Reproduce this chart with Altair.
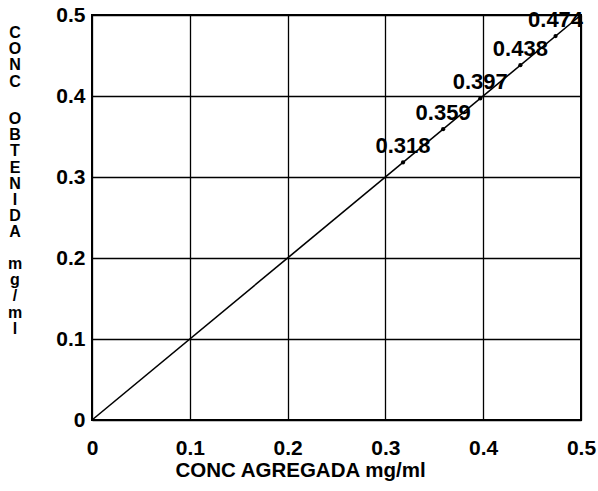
import altair as alt
import pandas as pd

# ---- data ----
line_x = [0.0, 0.5]
line_y = [0.0, 0.5]
point_values = [0.318, 0.359, 0.397, 0.438, 0.474]
point_labels = ["0.318", "0.359", "0.397", "0.438", "0.474"]
tick_values = [0, 0.1, 0.2, 0.3, 0.4, 0.5]
x_title = "CONC AGREGADA mg/ml"
y_title_words = ["CONC", "OBTENIDA", "mg/ml"]

FONT = "Liberation Sans"

line_df = pd.DataFrame({"x": line_x, "y": line_y})
pts_df = pd.DataFrame({"x": point_values, "y": point_values, "label": point_labels})
one_row = pd.DataFrame({"k": [0]})

scale = alt.Scale(domain=[0, 0.5], nice=False, zero=True)

x_axis = alt.Axis(
    values=tick_values, format="~g", grid=True, gridColor="black", gridWidth=1.3,
    gridOpacity=1, domain=False, ticks=False, labelFlush=False,
    labelFont=FONT, labelFontSize=21, labelFontWeight="bold", labelColor="black",
    labelPadding=17,
    title=x_title, titleFont=FONT, titleFontSize=20.5, titleFontWeight="bold",
    titleColor="black", titleX=208, titleY=56, titleBaseline="alphabetic",
    titleAlign="center",
)
y_axis = alt.Axis(
    values=tick_values, format="~g", grid=True, gridColor="black", gridWidth=1.3,
    gridOpacity=1, domain=False, ticks=False, labelFlush=False,
    labelFont=FONT, labelFontSize=21, labelFontWeight="bold", labelColor="black",
    labelPadding=7, title=None,
)

X = alt.X("x:Q", scale=scale, axis=x_axis)
Y = alt.Y("y:Q", scale=scale, axis=y_axis)

line = alt.Chart(line_df).mark_line(color="black", strokeWidth=1.6).encode(x=X, y=Y)

pts = alt.Chart(pts_df).mark_point(filled=True, color="black", size=18, opacity=1).encode(x=X, y=Y)

labels = alt.Chart(pts_df).mark_text(
    dy=-16, font=FONT, fontSize=22, fontWeight="bold", color="black",
    align="center", baseline="middle",
).encode(x=X, y=Y, text="label:N")

# vertical (stacked-letter) y-axis title, one block per word
title_layers = []
for word, base_y in zip(y_title_words, [23, 109, 254]):
    title_layers.append(
        alt.Chart(one_row).mark_text(
            font=FONT, fontSize=16, fontWeight="bold", color="black",
            align="center", baseline="alphabetic", lineHeight=16.2,
        ).encode(
            x=alt.value(-77), y=alt.value(base_y), text=alt.value(list(word))
        )
    )

chart = alt.layer(line, pts, labels, *title_layers).properties(
    width=489, height=405,
    padding={"left": 92, "top": 15, "right": 17, "bottom": 71},
    autosize=alt.AutoSizeParams(type="none"),
    background="white",
).configure_view(stroke="black", strokeWidth=2)

chart.save("out.html", embed_options={"renderer": "svg", "actions": False})
